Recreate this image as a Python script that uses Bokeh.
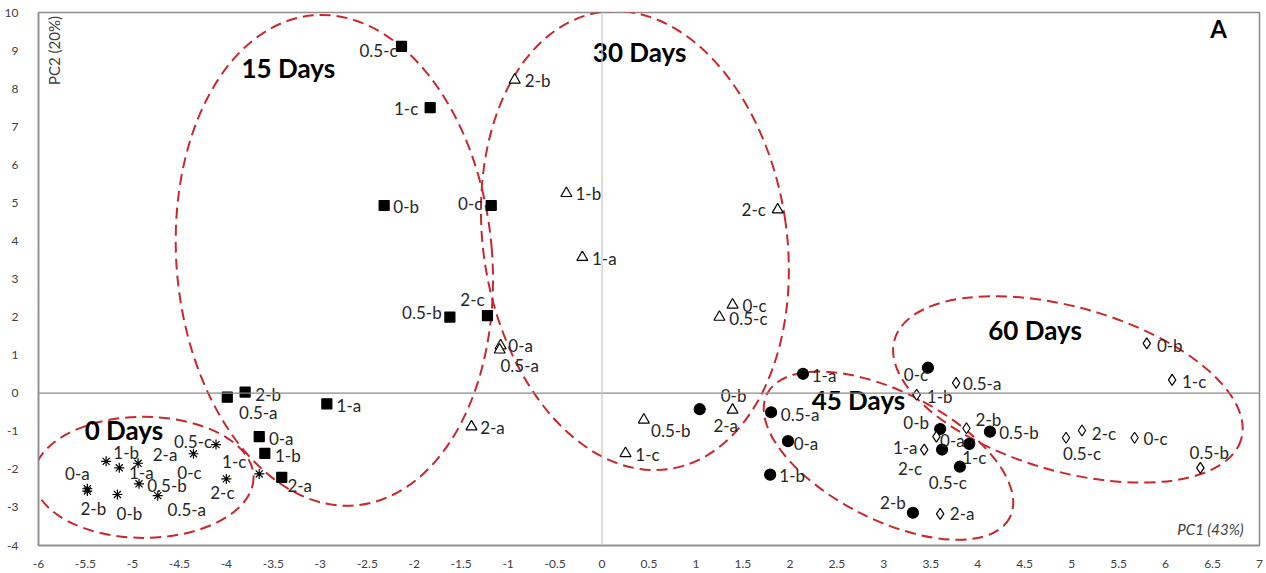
import math
from bokeh.plotting import figure
from bokeh.models import ColumnDataSource, Span, Label, FixedTicker, NumeralTickFormatter
from bokeh.core.properties import value
from bokeh.embed import file_html
from bokeh.resources import INLINE

# ---------------- data ----------------
# 0 Days (asterisk)
d0_x = [-5.48, -5.48, -5.28, -5.14, -4.94, -4.93, -5.16, -4.73, -4.35, -4.11, -4.00, -3.65]
d0_y = [-2.51, -2.57, -1.79, -1.96, -1.84, -2.38, -2.66, -2.69, -1.59, -1.35, -2.25, -2.12]
d0_lab = ["0-a", "2-b", "1-b", "1-a", "2-a", "0.5-b", "0-b", "0.5-a", "0-c", "0.5-c", "2-c", "1-c"]
# 15 Days (filled square)
d15_x = [-2.135, -1.83, -2.32, -1.18, -1.22, -1.62, -3.80, -3.99, -2.93, -3.65, -3.59, -3.41]
d15_y = [9.11, 7.50, 4.93, 4.93, 2.04, 2.00, 0.03, -0.105, -0.28, -1.14, -1.58, -2.21]
d15_lab = ["0.5-c", "1-c", "0-b", "0-c", "2-c", "0.5-b", "2-b", "0.5-a", "1-a", "0-a", "1-b", "2-a"]
# 30 Days (open triangle)
d30_x = [-0.93, -0.38, -0.21, 1.87, 1.39, 1.25, -1.08, -1.09, -1.39, 0.445, 0.25, 1.39]
d30_y = [8.23, 5.25, 3.57, 4.82, 2.32, 2.00, 1.25, 1.14, -0.88, -0.70, -1.58, -0.44]
d30_lab = ["2-b", "1-b", "1-a", "2-c", "0-c", "0.5-c", "0-a", "0.5-a", "2-a", "0.5-b", "1-c", "0-b"]
# 45 Days (filled circle)
d45_x = [1.04, 2.14, 1.80, 1.98, 1.79, 3.47, 3.60, 3.62, 3.91, 3.81, 4.13, 3.31]
d45_y = [-0.42, 0.51, -0.50, -1.26, -2.14, 0.67, -0.94, -1.48, -1.33, -1.93, -1.01, -3.14]
d45_lab = ["2-a", "1-a", "0.5-a", "0-a", "1-b", "0-c", "0-b", "2-c", "1-c", "0.5-c", "0.5-b", "2-b"]
# 60 Days (open diamond)
d60_x = [3.77, 3.35, 3.88, 3.56, 3.43, 3.60, 5.80, 6.07, 5.11, 4.94, 5.67, 6.37]
d60_y = [0.27, -0.04, -0.92, -1.14, -1.48, -3.17, 1.31, 0.35, -0.98, -1.17, -1.17, -1.96]
d60_lab = ["0.5-a", "1-b", "2-b", "0-a", "1-a", "2-a", "0-b", "1-c", "2-c", "0.5-c", "0-c", "0.5-b"]

# label offsets in screen pixels (dx right, dy down)
d0_dx = [-10, 6, 20, 22, 27, 28, 12, 29, -4, -23, -4, -25]
d0_dy = [-15, 17, -9, 5, -9, 2, 19, 14, 19, -3, 14, -12]
d15_dx = [-23, -24, 22, -21, -15, -28, 23, 31, 22, 22, 23, 18]
d15_dy = [4, 1, 1, -2, -16, -5, 2, 15, 2, 2, 2, 8]
d30_dx = [23, 22, 22, -24, 22, 29, 20, 20, 21, 27, 22, 1]
d30_dy = [1, 0, 1, 0, 1, 1, 0, 16, 1, 11, 1, -14]
d45_dx = [26, 21, 29, 18, 22, -12, -24, -32, 5, -12, 29, -20]
d45_dy = [16, 2, 2, 2, 1, 7, -7, 19, 14, 16, 1, -10]
d60_dx = [26, 23, 22, 16, -19, 22, 23, 22, 22, 16, 21, 9]
d60_dy = [1, 2, -9, 4, -2, 0, 2, 2, 3, 16, 1, -15]

# group ellipses: centre, width, height (data units), angle (degrees)
ell_x = [-4.88, -2.85, 0.35, 3.05, 4.96]
ell_y = [-2.21, 3.49, 4.01, -1.64, 0.10]
ell_w = [2.34, 3.36, 3.23, 2.90, 3.84]
ell_h = [3.18, 12.92, 12.14, 3.36, 4.31]
ell_a = [0, 5, 8.7, -27, -16]

# group titles
day_names = ["0 Days", "15 Days", "30 Days", "45 Days", "60 Days"]
day_x = [-5.09, -3.34, 0.40, 2.73, 4.61]
day_y = [-0.97, 8.53, 8.95, -0.19, 1.65]

x_ticks = [-6 + 0.5 * i for i in range(27)]
y_ticks = list(range(-4, 11))

FONT = "Lato"

p = figure(width=1266, height=573, x_range=(-6, 7), y_range=(-4, 10),
           output_backend="svg", toolbar_location=None,
           min_border_left=38, min_border_right=7, min_border_top=12, min_border_bottom=28)
p.background_fill_color = "white"
p.border_fill_color = "white"
p.outline_line_color = "#8c8c8c"
p.outline_line_width = 1.5
p.xgrid.visible = False
p.ygrid.visible = False

for ax in (p.xaxis[0], p.yaxis[0]):
    ax.axis_line_color = "#8c8c8c"
    ax.axis_line_width = 1.5
    ax.major_tick_line_color = None
    ax.minor_tick_line_color = None
    ax.major_label_text_font = FONT
    ax.major_label_text_font_size = "12px"
    ax.major_label_text_color = "#404040"
p.xaxis.ticker = FixedTicker(ticks=x_ticks)
p.yaxis.ticker = FixedTicker(ticks=y_ticks)
p.xaxis.formatter = NumeralTickFormatter(format="0.[0]")
p.yaxis.formatter = NumeralTickFormatter(format="0")
p.xaxis.major_label_standoff = 8
p.yaxis.major_label_standoff = 14

p.add_layout(Span(location=0, dimension="width", line_color="#8a8a8a", line_width=1.2))
p.add_layout(Span(location=0, dimension="height", line_color="#c8c8c8", line_width=1.2))

# ellipses
esrc = ColumnDataSource(dict(x=ell_x, y=ell_y, w=ell_w, h=ell_h, a=[math.radians(v) for v in ell_a]))
p.ellipse(x="x", y="y", width="w", height="h", angle="a", source=esrc,
          fill_color=None, line_color="#c8282d", line_width=2, line_dash="11 6")

groups = [
    (d0_x, d0_y, d0_lab, d0_dx, d0_dy, "asterisk", 10, "black"),
    (d15_x, d15_y, d15_lab, d15_dx, d15_dy, "square", 10, "black"),
    (d30_x, d30_y, d30_lab, d30_dx, d30_dy, "triangle", 11, "white"),
    (d45_x, d45_y, d45_lab, d45_dx, d45_dy, "circle", 11, "black"),
    (d60_x, d60_y, d60_lab, d60_dx, d60_dy, "diamond", 11, "white"),
]
for xs, ys, labs, dxs, dys, mk, sz, fill in groups:
    src = ColumnDataSource(dict(x=xs, y=ys, lab=labs, dx=dxs, dy=dys))
    p.scatter(x="x", y="y", source=src, marker=mk, size=sz,
              fill_color=fill, line_color="black", line_width=1.2)
    p.text(x="x", y="y", text="lab", x_offset="dx", y_offset="dy", source=src,
           text_align="center", text_baseline="middle",
           text_font=value(FONT), text_font_size="17px", text_color="#262626")

dsrc = ColumnDataSource(dict(x=day_x, y=day_y, t=day_names))
p.text(x="x", y="y", text="t", source=dsrc, text_align="center", text_baseline="middle",
       text_font=value(FONT), text_font_size="26px", text_font_style="bold", text_color="black")

p.add_layout(Label(x=15, y=495, x_units="screen", y_units="screen", text="PC2 (20%)",
                   angle=math.pi / 2, text_font=FONT, text_font_size="15px",
                   text_color="#404040", text_align="center", text_baseline="middle"))
p.add_layout(Label(x=1172, y=17, x_units="screen", y_units="screen", text="PC1 (43%)",
                   text_font=FONT, text_font_size="15px", text_font_style="italic",
                   text_color="#404040", text_align="center", text_baseline="middle"))
p.add_layout(Label(x=1180, y=517, x_units="screen", y_units="screen", text="A",
                   text_font=FONT, text_font_size="24px", text_font_style="bold",
                   text_color="black", text_align="center", text_baseline="middle"))

open("out.html", "w").write(file_html(p, INLINE))
